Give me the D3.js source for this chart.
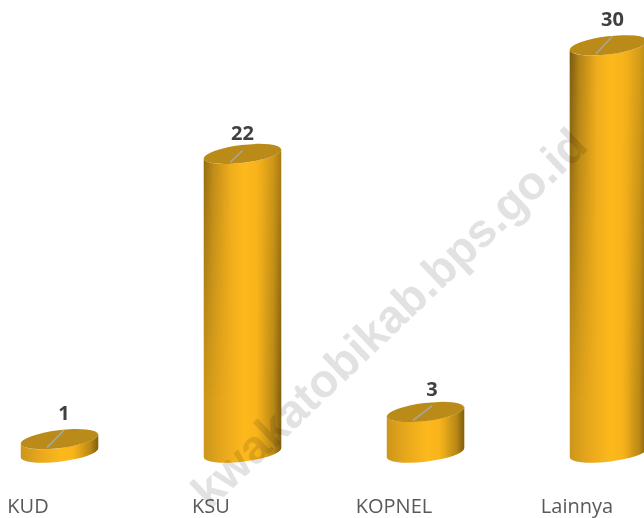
<!DOCTYPE html>
<html>
<head>
<meta charset="utf-8">
<script src="https://cdn.jsdelivr.net/npm/d3@7/dist/d3.min.js"></script>
<style>
  html, body { margin: 0; padding: 0; background: #fff; overflow: hidden; }
  svg { display: block; }
</style>
</head>
<body>
<svg width="644" height="518"></svg>
<script>
var categories = ["KUD", "KSU", "KOPNEL", "Lainnya"];
var values = [1, 22, 3, 30];

var svg = d3.select("svg"),
  width = +svg.attr("width"),
  height = +svg.attr("height");

var x = d3.scalePoint().domain(categories).range([59.5, 608.5]);
var y = d3.scaleLinear().domain([0, 30]).range([452.7, 45.3]);

// cylinder shape: tilted ellipse, the ends are the same ellipse at y(value) and y(0)
var rx = 39, ry = 9, tilt = -7;
var phi = tilt * Math.PI / 180;
var t0 = Math.atan2(-ry * Math.sin(phi), rx * Math.cos(phi));
var edgeX = rx * Math.cos(t0) * Math.cos(phi) - ry * Math.sin(t0) * Math.sin(phi);
var edgeY = rx * Math.cos(t0) * Math.sin(phi) + ry * Math.sin(t0) * Math.cos(phi);

// the label leaders are not the same length in the original
var leaderEnd = { KUD: [4.5, -9], KSU: [0, -3.5], KOPNEL: [6.5, -6], Lainnya: [4, -9] };

var rows = categories.map(function(c, i) {
  return { name: c, value: values[i] };
});

var defs = svg.append("defs");

function gradient(id, stops) {
  var g = defs.append("linearGradient").attr("id", id);
  stops.forEach(function(s) {
    g.append("stop").attr("offset", s[0]).attr("stop-color", s[1]).attr("stop-opacity", s[2] === undefined ? 1 : s[2]);
  });
  return g;
}

gradient("side", [[0, "#cc961a"], [0.25, "#e8a81c"], [0.52, "#fdb81c"], [0.75, "#f6b21b"], [1, "#d69e1a"]]);
// the dark edges change with height: left edge is darkest up high, right edge down low
gradient("shadeLeft", [[0, "#5a430c", 0.7], [0.12, "#5a430c", 0.3], [0.35, "#5a430c", 0]]);
gradient("shadeRight", [[0.68, "#5a430c", 0], [0.9, "#5a430c", 0.3], [1, "#5a430c", 0.7]]);

gradient("fadeDown", [[0, "#fff"], [1, "#000"]])
  .attr("gradientUnits", "userSpaceOnUse")
  .attr("x1", 0).attr("x2", 0).attr("y1", 60).attr("y2", 400);
gradient("fadeUp", [[0, "#555"], [1, "#fff"]])
  .attr("gradientUnits", "userSpaceOnUse")
  .attr("x1", 0).attr("x2", 0).attr("y1", 60).attr("y2", 400);

defs.append("mask").attr("id", "maskDown").attr("maskUnits", "userSpaceOnUse")
  .attr("x", 0).attr("y", 0).attr("width", width).attr("height", height)
  .append("rect").attr("width", width).attr("height", height).attr("fill", "url(#fadeDown)");
defs.append("mask").attr("id", "maskUp").attr("maskUnits", "userSpaceOnUse")
  .attr("x", 0).attr("y", 0).attr("width", width).attr("height", height)
  .append("rect").attr("width", width).attr("height", height).attr("fill", "url(#fadeUp)");

function sidePath(d) {
  var cx = x(d.name), top = y(d.value), bottom = y(0);
  return "M" + (cx - edgeX) + "," + (top - edgeY) +
    "L" + (cx - edgeX) + "," + (bottom - edgeY) +
    "A" + rx + "," + ry + " " + tilt + " 0 0 " + (cx + edgeX) + "," + (bottom + edgeY) +
    "L" + (cx + edgeX) + "," + (top + edgeY) +
    "A" + rx + "," + ry + " " + tilt + " 0 1 " + (cx - edgeX) + "," + (top - edgeY) + "Z";
}

var bars = svg.append("g").selectAll("g")
  .data(rows)
  .enter().append("g");

bars.append("path")
  .attr("d", sidePath)
  .attr("fill", "url(#side)");

bars.append("g").attr("mask", "url(#maskDown)")
  .append("path")
  .attr("d", sidePath)
  .attr("fill", "url(#shadeLeft)");

bars.append("g").attr("mask", "url(#maskUp)")
  .append("path")
  .attr("d", sidePath)
  .attr("fill", "url(#shadeRight)");

bars.append("ellipse")
  .attr("rx", rx)
  .attr("ry", ry)
  .attr("fill", "#ba8b18")
  .attr("transform", function(d) {
    return "translate(" + x(d.name) + "," + y(d.value) + ") rotate(" + tilt + ")";
  });

bars.append("line")
  .attr("x1", function(d) { return x(d.name) - 12.5; })
  .attr("y1", function(d) { return y(d.value) + 8.5; })
  .attr("x2", function(d) { return x(d.name) + leaderEnd[d.name][0]; })
  .attr("y2", function(d) { return y(d.value) + leaderEnd[d.name][1]; })
  .attr("stroke", "#a6a6a6")
  .attr("stroke-width", 1.5);

bars.append("text")
  .attr("x", function(d) { return x(d.name) + leaderEnd[d.name][0]; })
  .attr("y", function(d) { return y(d.value) + leaderEnd[d.name][1] - 10; })
  .attr("text-anchor", "middle")
  .attr("font-family", "'Open Sans', sans-serif")
  .attr("font-weight", 700)
  .attr("font-size", 20)
  .attr("fill", "#404040")
  .text(function(d) { return d.value; });

// category labels sit left of the cylinders
svg.append("g").selectAll("text")
  .data(rows)
  .enter().append("text")
  .attr("x", function(d) { return x(d.name) - 31.5; })
  .attr("y", 512.5)
  .attr("text-anchor", "middle")
  .attr("font-family", "'Open Sans', sans-serif")
  .attr("font-size", 20)
  .attr("fill", "#595959")
  .text(function(d) { return d.name; });

// watermark over everything
svg.append("text")
  .attr("transform", "translate(210,510) rotate(-43.6)")
  .attr("font-family", "'Liberation Sans', Arial, sans-serif")
  .attr("font-weight", 700)
  .attr("font-size", 46.5)
  .attr("fill", "#e2e2e2")
  .style("mix-blend-mode", "multiply")
  .text("kwakatobikab.bps.go.id");
</script>
</body>
</html>
